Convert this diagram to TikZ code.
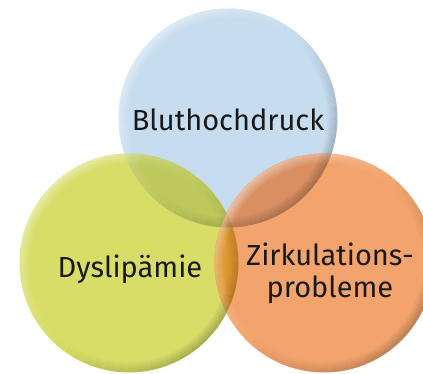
\documentclass[tikz,border=0pt]{standalone}
\usepackage{fontspec}
\setmainfont{Fira Sans}
\usetikzlibrary{positioning}
\definecolor{blaugrund}{HTML}{C6DCEF}
\definecolor{gruengrund}{HTML}{D7DD66}
\definecolor{orangegrund}{HTML}{F2A46C}
\definecolor{blaugruen}{HTML}{BDC95C}
\definecolor{blauorange}{HTML}{D98F62}
\definecolor{gruenorange}{HTML}{DF962F}
\definecolor{alledrei}{HTML}{D4903C}
\tikzset{
  kreis/.style={circle, minimum size=219pt, inner sep=0pt, draw=none},
  beschrift/.style={font=\fontsize{29}{32}\selectfont, text=black!90, align=center, inner sep=0pt},
}
\begin{document}
\begin{tikzpicture}[x=1pt,y=1pt]
\useasboundingbox (0,0) rectangle (423,373);
% die drei Kreise
\node[kreis, fill=blaugrund] (blut) at (228,255) {};
\node[kreis, fill=gruengrund] (dys) at (129,110) {};
\node[kreis, fill=orangegrund] (zirk) at (324,110) {};
% Ueberschneidungen
\begin{scope}
  \clip (blut.center) circle [radius=109.5];
  \fill[blaugruen] (dys.center) circle [radius=109.5];
\end{scope}
\begin{scope}
  \clip (blut.center) circle [radius=109.5];
  \fill[blauorange] (zirk.center) circle [radius=109.5];
\end{scope}
\begin{scope}
  \clip (dys.center) circle [radius=109.5];
  \fill[gruenorange] (zirk.center) circle [radius=109.5];
\end{scope}
\begin{scope}
  \clip (blut.center) circle [radius=109.5];
  \clip (dys.center) circle [radius=109.5];
  \fill[alledrei] (zirk.center) circle [radius=109.5];
\end{scope}
% weicher Rand: unten rechts dunkler, oben links heller
\foreach \k in {blut,dys,zirk}
  \foreach \a in {0,6,...,354}
    \foreach \d in {1,3,5,7,9}{
      \pgfmathsetmacro\od{0.22*max(0,cos(\a+45))*(1-\d/11)}
      \pgfmathsetmacro\oh{0.45*max(0,cos(\a-135))*(1-\d/11)}
      \draw[black, draw opacity=\od, line width=2pt] (\k.center) ++(\a:109.5-\d) arc [start angle=\a, end angle=\a+6, radius=109.5-\d];
      \draw[white, draw opacity=\oh, line width=2pt] (\k.center) ++(\a:109.5-\d) arc [start angle=\a, end angle=\a+6, radius=109.5-\d];
    }
% Texte
\node[beschrift, anchor=base] (tblut) at (228,243) {Bluthochdruck};
\node[beschrift, anchor=base] (tdys) at (130,96) {Dyslipämie};
\node[beschrift, anchor=base] (tzirk) at (330,76) {Zirkulations-\\probleme};
\end{tikzpicture}
\end{document}
